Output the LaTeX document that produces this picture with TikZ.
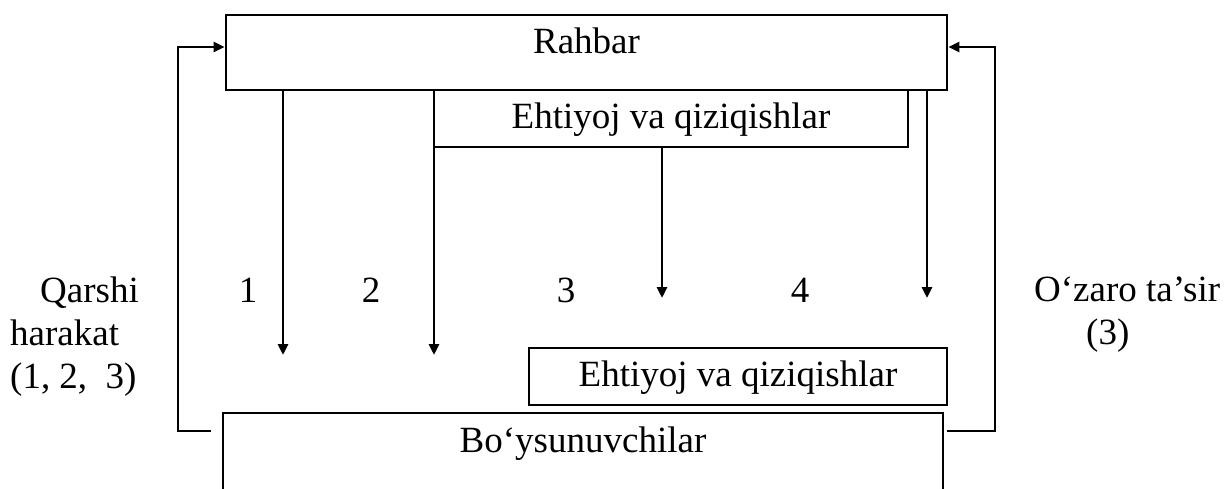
\documentclass[tikz,border=0pt]{standalone}
\usepackage{fontspec}
\setmainfont{Liberation Serif}
\usetikzlibrary{arrows.meta}

\begin{document}
\begin{tikzpicture}[x=1pt, y=-1pt,
    every node/.style={font=\fontsize{37}{43}\selectfont, inner sep=0pt},
    box/.style={draw, line width=2.8pt, anchor=base},
    num/.style={anchor=base},
    link/.style={line width=2.8pt},
    arr/.style={link, -{Triangle[length=11pt, width=10pt]}}]
    \useasboundingbox (0,0) rectangle (1227,488);

    \node[box, minimum width=721pt, text height=38pt, text depth=37pt] (rahbar) at (586.5,53) {Rahbar};
    \node[box, minimum width=474pt, text height=38pt, text depth=19pt] (ehtiyojA) at (671,128) {Ehtiyoj va qiziqishlar};
    \node[box, minimum width=418pt, text height=38pt, text depth=19pt] (ehtiyojB) at (738,386) {Ehtiyoj va qiziqishlar};
    \node[box, minimum width=720pt, text height=39pt, text depth=68pt] (boys) at (583,452) {Bo‘ysunuvchilar};

    \coordinate (e1) at (283,355);
    \coordinate (e2) at (434,355);
    \coordinate (e3) at (662,298);
    \coordinate (e4) at (927,298);
    \draw[arr] (rahbar.south -| e1) -- (e1);
    \draw[arr] (rahbar.south -| e2) -- (e2);
    \draw[arr] (ehtiyojA.south -| e3) -- (e3);
    \draw[arr] (rahbar.south -| e4) -- (e4);

    \coordinate (l1) at (211,431);
    \coordinate (l2) at (178,47);
    \coordinate (r1) at (947,431);
    \coordinate (r2) at (995,47);
    \draw[arr] (l1) -| (l2) -- (l2 -| rahbar.west);
    \draw[arr] (r1) -| (r2) -- (r2 -| rahbar.east);

    \node[num] (n1) at (248,302) {1};
    \node[num] (n2) at (371,302) {2};
    \node[num] (n3) at (566,302) {3};
    \node[num] (n4) at (800,302) {4};

    \node[anchor=north west, align=left] (qarshi) at (10,277) {\hspace*{30pt}Qarshi\\harakat\\(1, 2,\ \ 3)};
    \node[anchor=north west, align=left] (ozaro) at (1034,277) {O‘zaro ta’sir\\\hspace*{52pt}(3)};
\end{tikzpicture}
\end{document}
